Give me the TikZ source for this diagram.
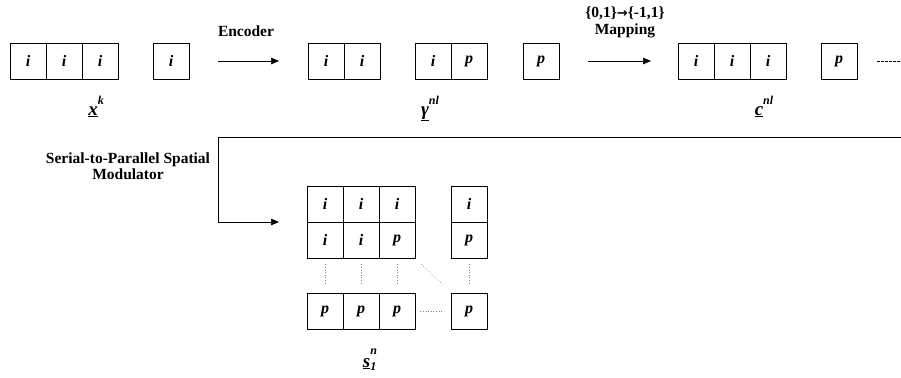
\documentclass[tikz,border=0pt]{standalone}
\usepackage{fontspec}
\setmainfont{Liberation Serif}
\newfontfamily\arrowfont{DejaVu Sans}
\usetikzlibrary{arrows.meta}
\begin{document}
\begin{tikzpicture}[x=1pt,y=-1pt,
  cell/.style={draw, line width=0.7pt, minimum width=36pt, minimum height=36pt, inner sep=0pt,
    font=\fontsize{16}{16}\selectfont\bfseries\itshape},
  lbl/.style={font=\fontsize{15.5}{16}\selectfont\bfseries, align=center, inner sep=0pt},
  conn/.style={line width=0.7pt},
  arr/.style={line width=0.7pt, -{Triangle[length=8pt,width=6.5pt]}},
  dots/.style={dotted, line width=0.6pt, gray},
  sym/.style={font=\fontsize{19}{19}\selectfont\bfseries\itshape, inner sep=0pt, anchor=base}]
\useasboundingbox (0,0) rectangle (901,377);

% ---- row 1: x^k
\node[cell] (x1) at (28,61) {i};
\node[cell] (x2) at (64,61) {i};
\node[cell] (x3) at (100,61) {i};
\node[cell] (x4) at (171,61) {i};
\node[sym] (xk) at (96,115) {\underline{x}\raisebox{10pt}{\fontsize{12}{12}\selectfont k}};

% encoder
\coordinate (e1) at (218,61);
\coordinate (e2) at (279,61);
\draw[arr] (e1) -- (e2);
\node[lbl] (enc) at (246,31) {Encoder};

% ---- gamma
\node[cell] (g1) at (326,61) {i};
\node[cell] (g2) at (362,61) {i};
\node[cell] (g3) at (433,61) {i};
\node[cell] (g4) at (469,61) {p};
\node[cell] (g5) at (541,61) {p};
\node[sym] (gam) at (430,115) {\underline{γ}\raisebox{10pt}{\fontsize{12}{12}\selectfont nl}};

% mapping
\coordinate (m1) at (588,61);
\coordinate (m2) at (651,61);
\draw[arr] (m1) -- (m2);
\node[lbl] (map1) at (625,13) {\{0,1\}{\arrowfont\fontsize{13}{13}\selectfont →}\{-1,1\}};
\node[lbl] (map2) at (625,31) {Mapping};

% ---- c
\node[cell] (c1) at (696,61) {i};
\node[cell] (c2) at (732,61) {i};
\node[cell] (c3) at (768,61) {i};
\node[cell] (c4) at (839,61) {p};
\node[sym] (cnl) at (764,115) {\underline{c}\raisebox{10pt}{\fontsize{12}{12}\selectfont nl}};
\coordinate (d1) at (877,61);
\coordinate (d2) at (901,61);
\draw[conn, dashed, dash pattern=on 3pt off 1pt] (d1) -- (d2);

% ---- serial-to-parallel connector
\coordinate (s0) at (901,137);
\coordinate (s1) at (218,137);
\coordinate (s2) at (218,222);
\coordinate (s3) at (279,222);
\draw[conn] (s0) -- (s1) -- (s2);
\draw[arr] (s2) -- (s3);
\node[lbl] (spm) at (128,166) {Serial-to-Parallel Spatial\\Modulator};

% ---- matrix
\node[cell] (a11) at (325,204) {i};
\node[cell] (a12) at (361,204) {i};
\node[cell] (a13) at (397,204) {i};
\node[cell] (a14) at (469,204) {i};
\node[cell] (a21) at (325,240) {i};
\node[cell] (a22) at (361,240) {i};
\node[cell] (a23) at (397,240) {p};
\node[cell] (a24) at (469,240) {p};
\node[cell] (b1) at (325,311) {p};
\node[cell] (b2) at (361,311) {p};
\node[cell] (b3) at (397,311) {p};
\node[cell] (b4) at (469,311) {p};

\draw[dots] ([yshift=-6pt]a21.south) -- ([yshift=8pt]b1.north);
\draw[dots] ([yshift=-6pt]a22.south) -- ([yshift=8pt]b2.north);
\draw[dots] ([yshift=-6pt]a23.south) -- ([yshift=8pt]b3.north);
\draw[dots] ([yshift=-6pt]a24.south) -- ([yshift=8pt]b4.north);
\draw[dots] ([shift={(6pt,-6pt)}]a23.south east) -- ([shift={(-8pt,8pt)}]b4.north west);
\draw[dots] ([xshift=5pt]b3.east) -- ([xshift=-8pt]b4.west);

\node[sym] (sn) at (370,367) {\underline{s}\makebox[0pt][l]{\raisebox{-3pt}{\fontsize{12}{12}\selectfont 1}}\raisebox{13pt}{\fontsize{12}{12}\selectfont n}};
\end{tikzpicture}
\end{document}
